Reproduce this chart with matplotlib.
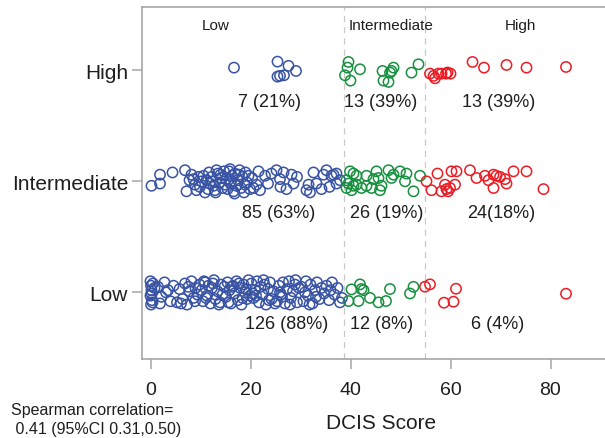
import matplotlib
matplotlib.use("Agg")
import matplotlib.pyplot as plt
import numpy as np

plt.rcParams['font.family'] = ['Liberation Sans', 'DejaVu Sans']

categories = ["Low", "Intermediate", "High"]
cutoffs = [38.7, 54.9]
region_labels = ["Low", "Intermediate", "High"]

# ---- High grade row ----
high_blue_x = [16.7, 25.4, 27.6, 29.1, 25.4, 25.9, 26.7]
high_blue_dy = [0.024, 0.078, 0.04, -0.006, -0.057, -0.05, -0.045]
high_green_x = [39.6, 39.4, 38.9, 40.0, 41.9, 46.4, 46.6, 47.6, 47.9, 48.6, 48.2, 52.2, 53.6]
high_green_dy = [0.075, 0.024, -0.045, -0.093, 0.009, -0.006, -0.093, -0.105, -0.021, 0.024, -0.006, -0.021, 0.054]
high_red_x = [55.9, 56.6, 56.9, 57.6, 58.2, 59.1, 59.4, 60.0, 64.4, 66.7, 71.2, 75.2, 83.1]
high_red_dy = [-0.03, -0.05, -0.072, -0.03, -0.03, -0.03, -0.02, -0.03, 0.075, 0.024, 0.048, 0.024, 0.03]

# ---- Intermediate grade row ----
int_blue_x = [0.2, 1.9, 1.9, 4.4,
              6.9, 7.2, 8.2, 8.6, 9.9, 9.2, 7.8, 8.9, 9.6,
              10.2, 11.2, 11.9, 13.2, 12.9, 10.6, 11.5, 12.2, 12.6, 13.5, 13.8, 14.1, 14.4, 14.7, 10.9, 11.7, 12.4, 13.0, 14.0, 14.9,
              15.1, 15.4, 15.7, 16.0, 16.3, 16.6, 16.9, 17.2, 17.5, 17.8, 18.1, 18.4, 18.7, 19.0, 19.3, 19.6, 19.9, 15.9, 16.8, 17.7, 18.9, 16.1,
              20.6, 21.6, 21.9, 22.9, 20.3, 23.5, 24.2, 21.2,
              25.2, 25.9, 26.6, 27.2, 28.2, 28.6, 29.3, 26.0,
              31.2, 31.6, 32.6, 33.2, 34.6, 34.2, 31.9,
              35.2, 36.2, 37.2, 37.9, 36.6, 37.2, 35.8]
int_blue_dy = [-0.04, 0.06, -0.02, 0.08,
               0.10, -0.09, 0.06, 0.02, -0.05, -0.08, 0.01, -0.03, 0.04,
               0.00, 0.01, -0.02, 0.10, -0.08, 0.05, -0.07, 0.04, -0.04, 0.07, -0.01, 0.03, -0.06, 0.09, -0.10, 0.08, 0.00, -0.10, 0.06, -0.03,
               0.02, -0.07, 0.09, -0.02, 0.05, -0.09, 0.07, -0.04, 0.01, 0.10, -0.06, 0.04, -0.10, 0.08, -0.01, 0.05, -0.07, 0.11, -0.11, 0.06, -0.03, 0.00,
               -0.06, 0.09, -0.08, 0.05, 0.03, -0.02, 0.07, -0.03,
               0.10, 0.02, 0.08, -0.07, 0.06, -0.02, 0.04, -0.05,
               -0.08, -0.03, 0.08, -0.02, 0.06, -0.07, -0.10,
               0.10, 0.05, 0.07, 0.01, 0.06, -0.02, -0.05]
int_green_x = [39.9, 39.6, 39.2, 40.2, 40.6, 41.2, 42.2, 43.2, 44.2, 45.2, 45.6, 45.9, 46.2,
               47.6, 48.2, 48.6, 49.9, 50.9, 51.2, 52.6, 53.9, 40.6, 39.2, 41.2, 43.2, 44.6]
int_green_dy = [0.09, -0.02, -0.06, -0.08, -0.04, 0.05, -0.06, 0.05, -0.06, 0.09, 0.03, -0.08, -0.04,
                0.10, 0.03, 0.06, 0.09, 0.00, 0.07, -0.09, 0.05, 0.07, 0.01, -0.03, -0.04, 0.02]
int_red_x = [55.2, 56.2, 57.4, 58.2, 58.9, 59.2, 59.9, 60.2, 60.9, 61.2, 63.9, 65.2,
             66.9, 67.6, 68.6, 68.6, 69.2, 69.9, 70.9, 71.2, 72.6, 75.2, 78.6, 59.5]
int_red_dy = [0.00, -0.08, 0.07, -0.09, -0.03, -0.07, -0.06, 0.09, -0.03, 0.09, 0.10, 0.03,
              0.05, 0.01, 0.06, -0.06, 0.05, 0.04, 0.02, -0.02, 0.09, 0.09, -0.07, -0.09]

# ---- Low grade row ----
low_blue_x = [0.0, 0.1, 0.2, 0.0, 0.3, 0.1, 0.5, 0.2, 0.8, 0.4,
              1.5, 2.2, 2.8, 3.5, 4.0, 4.6, 1.9, 3.1,
              5.3, 5.8, 6.4, 6.9, 7.3, 7.8, 8.2, 8.6, 9.0, 9.4, 9.8, 6.1, 7.6, 8.9,
              10.2, 10.5, 10.9, 11.3, 11.6, 12.0, 12.3, 12.7, 13.0, 13.4, 13.7, 14.1, 14.4, 14.8, 11.1, 12.5, 13.9, 10.7,
              15.1, 15.4, 15.8, 16.1, 16.5, 16.8, 17.2, 17.5, 17.9, 18.2, 18.6, 18.9, 19.3, 19.6, 19.9, 15.6, 16.3, 17.7, 18.4, 19.1,
              20.2, 20.6, 20.9, 21.3, 21.7, 22.0, 22.4, 22.8, 23.1, 23.5, 23.9, 24.2, 24.6, 24.9, 21.1, 22.6, 23.7, 20.4,
              25.3, 25.7, 26.1, 26.5, 26.9, 27.3, 27.7, 28.1, 28.5, 28.9, 29.3, 29.7, 26.3, 27.9, 29.0, 25.9,
              30.2, 30.6, 31.1, 31.5, 32.0, 32.4, 32.9, 33.3, 33.8, 34.2, 34.7, 31.8, 33.1, 30.9,
              35.2, 35.7, 36.3, 36.8, 37.4, 37.9, 38.3, 36.0]
low_blue_dy = [0.10, 0.06, 0.02, -0.03, -0.07, -0.11, 0.08, -0.01, 0.04, -0.09,
               0.05, -0.04, 0.09, 0.02, -0.08, 0.06, -0.10, 0.00,
               -0.09, 0.03, -0.06, 0.08, -0.11, 0.01, 0.10, -0.05, 0.04, -0.02, 0.07, -0.10, 0.05, -0.08,
               0.02, -0.08, 0.09, -0.03, 0.06, -0.10, 0.04, 0.11, -0.06, 0.01, -0.11, 0.07, -0.02, 0.05, -0.05, 0.08, -0.09, 0.10,
               -0.04, 0.09, 0.02, -0.10, 0.06, -0.01, 0.10, -0.07, 0.04, -0.11, 0.07, 0.00, -0.06, 0.11, -0.03, -0.09, 0.05, 0.08, -0.05, 0.03,
               0.08, -0.05, 0.02, 0.10, -0.09, 0.05, -0.02, 0.07, -0.11, 0.03, 0.09, -0.06, 0.01, -0.10, -0.03, 0.11, -0.07, -0.01,
               -0.08, 0.06, -0.02, 0.09, -0.10, 0.03, 0.10, -0.05, 0.01, 0.07, -0.09, 0.04, -0.04, -0.11, 0.11, 0.00,
               0.05, -0.08, 0.10, -0.03, 0.07, -0.10, 0.02, 0.09, -0.06, 0.04, -0.01, -0.11, -0.04, 0.00,
               0.06, -0.07, 0.09, -0.02, 0.04, -0.09, -0.05, 0.02]
low_green_x = [39.6, 40.2, 41.6, 41.9, 42.2, 42.6, 43.9, 45.6, 47.1, 47.9, 51.9, 52.6]
low_green_dy = [-0.078, 0.027, -0.078, 0.072, 0.03, 0.02, -0.05, -0.09, -0.078, 0.03, -0.01, 0.05]
low_red_x = [54.9, 55.9, 61.1, 58.7, 60.6, 83.1]
low_red_dy = [0.051, 0.072, 0.033, -0.093, -0.084, -0.012]

count_labels = [["126 (88%)", "12 (8%)", "6 (4%)"],
                ["85 (63%)", "26 (19%)", "24(18%)"],
                ["7 (21%)", "13 (39%)", "13 (39%)"]]
count_label_x = [[27.3, 46.3, 69.5], [25.7, 47.3, 70.1], [23.9, 46.1, 69.7]]

BLUE = "#3953a4"
GREEN = "#17903f"
RED = "#ec1c24"
GRAY = "#a6a6a6"
TXT = "#1e1e1e"

fig = plt.figure(figsize=(6.05, 4.39), dpi=100)
ax = fig.add_axes([142/605, 1 - 360/439, 1 - 142/605, (360 - 8)/439])

rows = [
    (0, [(low_blue_x, low_blue_dy, BLUE), (low_green_x, low_green_dy, GREEN), (low_red_x, low_red_dy, RED)]),
    (1, [(int_blue_x, int_blue_dy, BLUE), (int_green_x, int_green_dy, GREEN), (int_red_x, int_red_dy, RED)]),
    (2, [(high_blue_x, high_blue_dy, BLUE), (high_green_x, high_green_dy, GREEN), (high_red_x, high_red_dy, RED)]),
]
for yc, groups in rows:
    for xs, dys, col in groups:
        ax.scatter(xs, yc + np.array(dys), s=55, facecolors='none', edgecolors=col,
                   linewidths=1.1, zorder=3)

for c in cutoffs:
    ax.axvline(c, color="#c8c8c8", lw=0.9, ls=(0, (5, 4)), zorder=1)

for yi, (labs, xs) in enumerate(zip(count_labels, count_label_x)):
    for lab, x in zip(labs, xs):
        ax.text(x, yi - 0.28, lab, ha='center', va='center', fontsize=13, color=TXT)

for lab, x in zip(region_labels, [13.1, 48.1, 73.9]):
    ax.text(x, 2.405, lab, ha='center', va='center', fontsize=11, color=TXT)

ax.set_xlim(-1.7, 90.9)
ax.set_ylim(-0.6, 2.57)
ax.set_xticks([0, 20, 40, 60, 80])
ax.set_yticks([0, 1, 2])
ax.set_yticklabels(categories)
ax.spines['right'].set_visible(False)
for s in ['left', 'bottom', 'top']:
    ax.spines[s].set_color(GRAY)
    ax.spines[s].set_linewidth(1.2)
ax.tick_params(axis='both', colors=GRAY, labelcolor=TXT,
               length=7, width=1.1, direction='out')
ax.tick_params(axis='x', pad=9, labelsize=14)
ax.tick_params(axis='y', pad=3, labelsize=15)

fig.text(381/605, 1 - 424/439, "DCIS Score", ha='center', va='center', fontsize=15, color=TXT)
fig.text(11/605, 1 - 411/439, "Spearman correlation=", ha='left', va='center', fontsize=11.5, color=TXT)
fig.text(11/605, 1 - 430/439, " 0.41 (95%CI 0.31,0.50)", ha='left', va='center', fontsize=11.5, color=TXT)

fig.savefig("out.png", dpi=100)
